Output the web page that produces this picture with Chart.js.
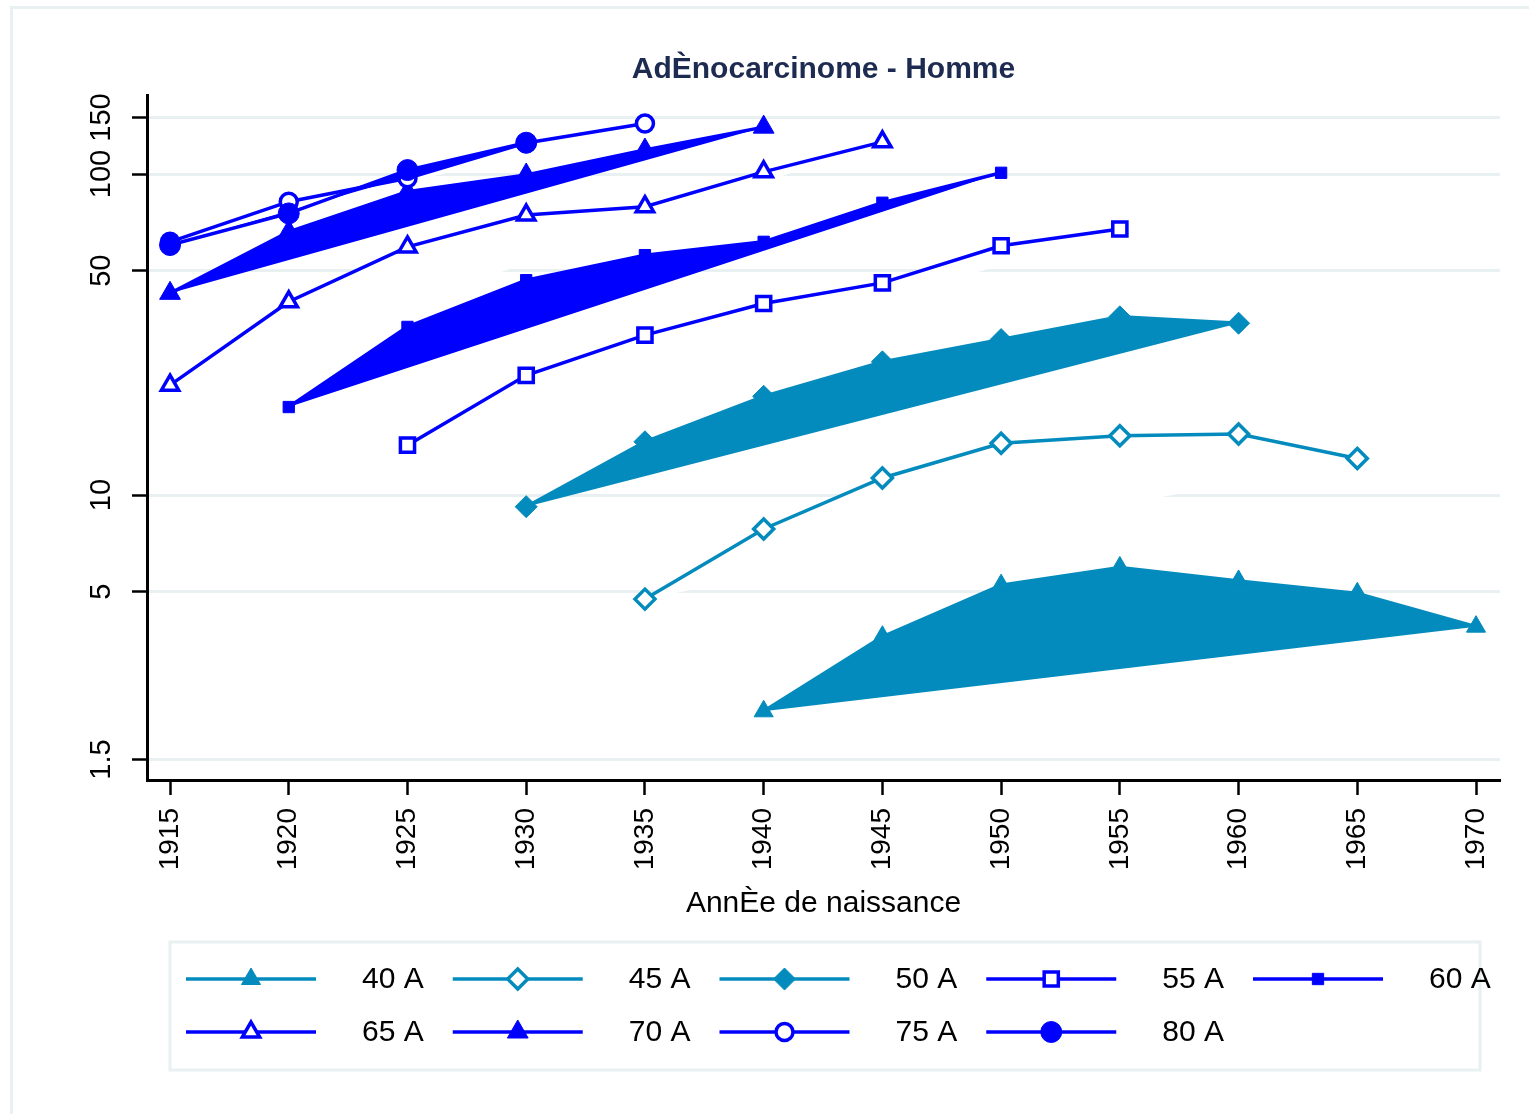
<!DOCTYPE html>
<html>
<head>
<meta charset="utf-8">
<title>AdÈnocarcinome - Homme</title>
<script src="https://cdn.jsdelivr.net/npm/chart.js@4.4.1/dist/chart.umd.min.js"></script>
<style>
  html, body { margin: 0; padding: 0; background: #fff; overflow: hidden; width: 1529px; height: 1114px; }
  #frame { position: absolute; left: 10px; top: 6px; width: 1600px; height: 1200px; border: 3px solid #e9f0f2; }
  #graph { position: absolute; left: 0; top: 0; }
</style>
</head>
<body>
<div id="frame"></div>
<canvas id="graph" width="1529" height="1114"></canvas>
<script>
// birth cohorts (x axis)
const years = [1915, 1920, 1925, 1930, 1935, 1940, 1945, 1950, 1955, 1960, 1965, 1970];
const ageGroups = ['40 A', '45 A', '50 A', '55 A', '60 A', '65 A', '70 A', '75 A', '80 A'];

// rates per age group, one value per birth year (null = no point)
const rate40 = [null, null, null, null, null, 2.12, 3.62, 5.24, 5.95, 5.4, 4.94, 3.89];
const rate45 = [null, null, null, null, 4.74, 7.84, 11.3, 14.5, 15.3, 15.5, 13.0, null];
const rate50 = [null, null, null, 9.2, 14.65, 20.3, 26.0, 30.5, 35.9, 34.3, null, null];
const rate55 = [null, null, 14.3, 23.6, 31.5, 39.5, 45.8, 59.8, 67.4, null, null, null];
const rate60 = [null, 18.8, 33.4, 46.7, 55.9, 61.5, 81.4, 100.9, null, null, null, null];
const rate65 = [22.0, 40.0, 59.3, 74.5, 79.1, 101.6, 126.0, null, null, null, null, null];
const rate70 = [42.5, 66.1, 88.1, 99.3, 118.8, 140.0, null, null, null, null, null, null];
const rate75 = [61.5, 82.0, 97.0, 125.0, 143.8, null, null, null, null, null, null, null];
const rate80 = [60.1, 75.4, 102.9, 125.2, null, null, null, null, null, null, null, null];

const yTicks = [1.5, 5, 10, 50, 100, 150];

const teal = '#038bbd';
const blue = '#0000ff';
const light = '#e9f0f2';
const fontFamily = '"Liberation Sans", Arial, sans-serif';

// marker look for each series (same order as ageGroups)
const series = [
  { values: rate40, color: teal, style: 'triangle', radius: 11, filled: true },
  { values: rate45, color: teal, style: 'rectRot', radius: 10, filled: false },
  { values: rate50, color: teal, style: 'rectRot', radius: 11, filled: true },
  { values: rate55, color: blue, style: 'rect', radius: 10, filled: false },
  { values: rate60, color: blue, style: 'rect', radius: 8, filled: true },
  { values: rate65, color: blue, style: 'triangle', radius: 10, filled: false },
  { values: rate70, color: blue, style: 'triangle', radius: 12, filled: true },
  { values: rate75, color: blue, style: 'circle', radius: 8.5, filled: false },
  { values: rate80, color: blue, style: 'circle', radius: 10.5, filled: true }
];

function toPoints(values) {
  return years.map((yr, i) => ({ x: yr, y: values[i] })).filter(p => p.y !== null);
}

const datasets = series.map((s, i) => ({
  label: ageGroups[i],
  data: toPoints(s.values),
  borderColor: s.color,
  borderWidth: 3.5,
  backgroundColor: s.filled ? s.color : '#ffffff',
  fill: 'shape',  // stata closes each line into a polygon
  pointStyle: s.style,
  pointRadius: s.radius,
  pointBackgroundColor: s.filled ? s.color : '#ffffff',
  pointBorderColor: s.color,
  pointBorderWidth: s.filled ? 1 : 3.5,
  tension: 0,
  order: series.length - i   // later age groups drawn on top
}));

// legend in stata style: line sample with marker, then label
const stataLegend = {
  id: 'stataLegend',
  afterDraw(chart) {
    const ctx = chart.ctx;
    ctx.save();
    ctx.strokeStyle = light;
    ctx.lineWidth = 3;
    ctx.strokeRect(170, 942, 1310, 128);
    ctx.font = '30px ' + fontFamily;
    ctx.textBaseline = 'middle';
    chart.data.datasets.forEach((ds, i) => {
      const col = i % 5;
      const row = Math.floor(i / 5);
      const x0 = 186 + col * 266.75;
      const y = 979 + row * 53;
      ctx.strokeStyle = ds.borderColor;
      ctx.lineWidth = 3.5;
      ctx.beginPath();
      ctx.moveTo(x0, y);
      ctx.lineTo(x0 + 130, y);
      ctx.stroke();
      ctx.fillStyle = ds.pointBackgroundColor;
      ctx.strokeStyle = ds.pointBorderColor;
      ctx.lineWidth = ds.pointBorderWidth;
      Chart.helpers.drawPoint(ctx, {
        pointStyle: ds.pointStyle,
        radius: ds.pointRadius,
        borderWidth: ds.pointBorderWidth,
        rotation: 0
      }, x0 + 65, y);
      ctx.fillStyle = '#000';
      ctx.fillText(ds.label, x0 + 176, y + 1);
    });
    ctx.restore();
  }
};

new Chart(document.getElementById('graph'), {
  type: 'line',
  data: { datasets: datasets },
  plugins: [stataLegend],
  options: {
    responsive: false,
    animation: false,
    devicePixelRatio: 1,
    events: [],
    layout: { padding: { left: 60, right: 29, top: 0, bottom: 189 } },
    plugins: {
      legend: { display: false },
      tooltip: { enabled: false },
      title: {
        display: true,
        text: 'AdÈnocarcinome - Homme',
        fullSize: false,
        color: '#1e2b50',
        font: { family: fontFamily, size: 30, weight: 'bold' },
        padding: { top: 52, bottom: 7 }
      }
    },
    scales: {
      x: {
        type: 'linear',
        min: 1914.03,
        max: 1971.01,
        afterBuildTicks: s => { s.ticks = years.map(v => ({ value: v })); },
        afterFit: s => { s.height = 145; },
        border: { color: '#000', width: 3 },
        grid: { drawOnChartArea: false, drawTicks: true, tickLength: 15, tickColor: '#000', tickWidth: 2.5 },
        ticks: {
          autoSkip: false, minRotation: 90, maxRotation: 90, padding: 13,
          color: '#000', font: { family: fontFamily, size: 28 },
          callback: v => String(v)
        },
        title: {
          display: true,
          text: 'AnnÈe de naissance',
          color: '#000',
          font: { family: fontFamily, size: 30 },
          padding: { top: 0, bottom: 3 }
        }
      },
      y: {
        type: 'logarithmic',
        min: 1.295,
        max: 176.3,
        afterBuildTicks: s => { s.ticks = yTicks.map(v => ({ value: v })); },
        afterFit: s => { s.width = 87; },
        border: { color: '#000', width: 3 },
        grid: { color: light, lineWidth: 3, drawTicks: true, tickLength: 15, tickColor: '#000', tickWidth: 2.5 },
        ticks: {
          autoSkip: false, minRotation: 90, maxRotation: 90, crossAlign: 'center', padding: 6,
          color: '#000', font: { family: fontFamily, size: 29 },
          callback: v => String(v)
        }
      }
    }
  }
});
</script>
</body>
</html>
